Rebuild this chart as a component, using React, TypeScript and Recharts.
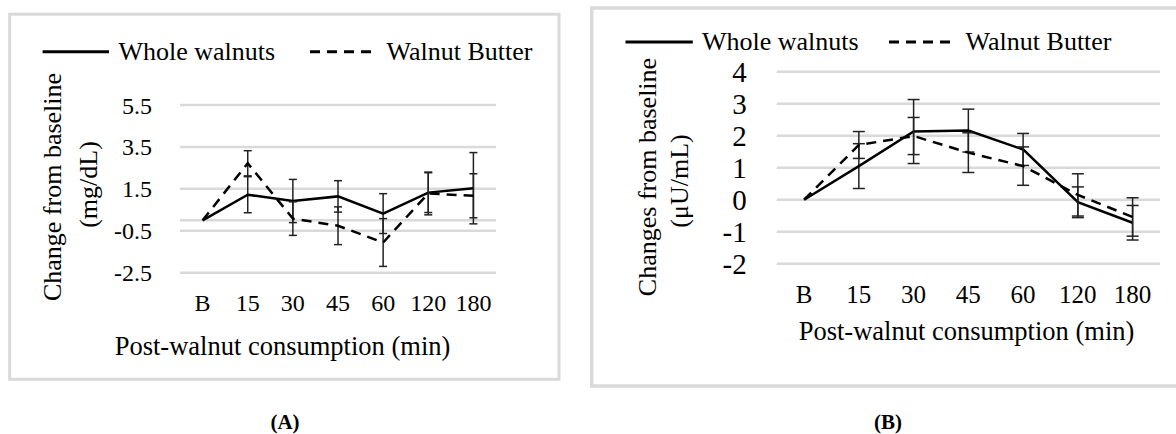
import React from 'react';
import { LineChart, Line, XAxis, YAxis, CartesianGrid, ErrorBar, ReferenceLine } from 'recharts';

const categories = ['B', '15', '30', '45', '60', '120', '180'];

// Panel A: glucose change (mg/dL)
const glucoseWhole = [0, 1.22, 0.92, 1.14, 0.32, 1.32, 1.53];
const glucoseWholeErr = [0, 0.86, 1.03, 0.75, 0.95, 0.95, 1.7];
const glucoseButter = [0, 2.72, 0.08, -0.26, -1.06, 1.28, 1.17];
const glucoseButterErr = [0, 0.6, 0.8, 0.9, 1.14, 1.02, 1.05];
const glucoseTicks = [-2.5, -0.5, 1.5, 3.5, 5.5];

// Panel B: insulin change (µU/mL)
const insulinWhole = [0, 1.05, 2.13, 2.16, 1.57, -0.08, -0.72];
const insulinWholeErr = [0, 0.7, 1.0, 0.67, 0.5, 0.48, 0.54];
const insulinButter = [0, 1.71, 1.99, 1.47, 1.05, 0.15, -0.54];
const insulinButterErr = [0, 0.42, 0.58, 0.62, 0.6, 0.66, 0.6];
const insulinTicks = [-2, -1, 0, 1, 2, 3, 4];

const seriesNames = ['Whole walnuts', 'Walnut Butter'];
const xTitle = 'Post-walnut consumption (min)';

const glucoseData = categories.map((t, i) => ({
  t,
  whole: glucoseWhole[i],
  wholeErr: glucoseWholeErr[i],
  butter: glucoseButter[i],
  butterErr: glucoseButterErr[i],
}));

const insulinData = categories.map((t, i) => ({
  t,
  whole: insulinWhole[i],
  wholeErr: insulinWholeErr[i],
  butter: insulinButter[i],
  butterErr: insulinButterErr[i],
}));

const FONT = "'Liberation Serif', 'Times New Roman', serif";
const GRID = '#d9d9d9';

export default function App() {
  return (
    <div style={{ position: 'absolute', left: 0, top: 0, width: 1176, height: 434, background: '#fff', overflow: 'hidden' }}>
      {/* Panel A chart */}
      <div style={{ position: 'absolute', left: 0, top: 0, width: 580, height: 434 }}>
        <LineChart width={580} height={434} data={glucoseData} margin={{ top: 105, right: 84, bottom: 131.3, left: 120 }}>
          <CartesianGrid vertical={false} stroke={GRID} strokeWidth={2.5} />
          <XAxis
            dataKey="t"
            axisLine={false}
            tickLine={false}
            tickSize={0}
            tickMargin={21.4}
            height={30}
            interval={0}
            padding={{ left: 22.6, right: 22.6 }}
            tick={{ fontSize: 24, fill: '#000', fontFamily: FONT }}
          />
          <YAxis
            domain={[-2.5, 5.5]}
            ticks={glucoseTicks}
            interval={0}
            axisLine={false}
            tickLine={false}
            tickSize={0}
            tickMargin={28}
            width={60}
            tick={{ fontSize: 24, fill: '#000', fontFamily: FONT }}
          />
          <ReferenceLine y={0} stroke={GRID} strokeWidth={2.5} />
          <Line type="linear" dataKey="whole" stroke="#000" strokeWidth={2.5} dot={false} isAnimationActive={false}>
            <ErrorBar dataKey="wholeErr" direction="y" width={4} stroke="#222" strokeWidth={1.5} />
          </Line>
          <Line type="linear" dataKey="butter" stroke="#000" strokeWidth={2.5} strokeDasharray="10 7" dot={false} isAnimationActive={false}>
            <ErrorBar dataKey="butterErr" direction="y" width={4} stroke="#222" strokeWidth={1.5} />
          </Line>
        </LineChart>
      </div>

      {/* Panel B chart */}
      <div style={{ position: 'absolute', left: 585, top: 0, width: 591, height: 434 }}>
        <LineChart width={591} height={434} data={insulinData} margin={{ top: 71.7, right: 16, bottom: 140.3, left: 131.7 }}>
          <CartesianGrid vertical={false} stroke={GRID} strokeWidth={2.5} />
          <XAxis
            dataKey="t"
            axisLine={false}
            tickLine={false}
            tickSize={0}
            tickMargin={22}
            height={30}
            interval={0}
            padding={{ left: 27.4, right: 27.4 }}
            tick={{ fontSize: 25, fill: '#000', fontFamily: FONT }}
          />
          <YAxis
            domain={[-2, 4]}
            ticks={insulinTicks}
            interval={0}
            axisLine={false}
            tickLine={false}
            tickSize={0}
            tickMargin={30}
            width={60}
            tick={{ fontSize: 29, fill: '#000', fontFamily: FONT }}
          />
          <Line type="linear" dataKey="whole" stroke="#000" strokeWidth={2.5} dot={false} isAnimationActive={false}>
            <ErrorBar dataKey="wholeErr" direction="y" width={6} stroke="#222" strokeWidth={1.5} />
          </Line>
          <Line type="linear" dataKey="butter" stroke="#000" strokeWidth={2.5} strokeDasharray="10 7" dot={false} isAnimationActive={false}>
            <ErrorBar dataKey="butterErr" direction="y" width={6} stroke="#222" strokeWidth={1.5} />
          </Line>
        </LineChart>
      </div>

      {/* Overlay: frames, legends, titles, panel labels */}
      <svg width={1176} height={434} style={{ position: 'absolute', left: 0, top: 0, pointerEvents: 'none' }} fontFamily={FONT}>
        <rect x={9.7} y={14.2} width={549.3} height={365.1} fill="none" stroke={GRID} strokeWidth={3} />
        <rect x={591.7} y={8} width={590} height={378} fill="none" stroke={GRID} strokeWidth={3.5} />

        {/* Legend A */}
        <line x1={42.6} x2={109} y1={51.7} y2={51.7} stroke="#000" strokeWidth={3} />
        <text x={118.5} y={60} fontSize={26} fill="#000">{seriesNames[0]}</text>
        <line x1={310} x2={372} y1={51.7} y2={51.7} stroke="#000" strokeWidth={3} strokeDasharray="10 7" />
        <text x={386.5} y={60} fontSize={26} fill="#000">{seriesNames[1]}</text>

        {/* Legend B */}
        <line x1={625.5} x2={692.8} y1={42} y2={42} stroke="#000" strokeWidth={3} />
        <text x={702} y={50} fontSize={26} fill="#000">{seriesNames[0]}</text>
        <line x1={889} x2={952.5} y1={42} y2={42} stroke="#000" strokeWidth={3} strokeDasharray="10 7" />
        <text x={965.6} y={50} fontSize={26} fill="#000">{seriesNames[1]}</text>

        {/* Y titles A */}
        <text x={61.3} y={187} fontSize={26} fill="#000" textAnchor="middle" transform="rotate(-90 61.3 187)">Change from baseline</text>
        <text x={97.2} y={184.5} fontSize={26} fill="#000" textAnchor="middle" transform="rotate(-90 97.2 184.5)">(mg/dL)</text>

        {/* Y titles B */}
        <text x={655.5} y={177} fontSize={26} fill="#000" textAnchor="middle" transform="rotate(-90 655.5 177)">Changes from baseline</text>
        <text x={688} y={181} fontSize={26} fill="#000" textAnchor="middle" transform="rotate(-90 688 181)">(μU/mL)</text>

        {/* X titles */}
        <text x={282.5} y={355} fontSize={26.5} fill="#000" textAnchor="middle">{xTitle}</text>
        <text x={966.5} y={340} fontSize={26.5} fill="#000" textAnchor="middle">{xTitle}</text>

        {/* Panel labels */}
        <text x={285} y={429} fontSize={21} fill="#000" textAnchor="middle" fontWeight="bold">(A)</text>
        <text x={888} y={429} fontSize={21} fill="#000" textAnchor="middle" fontWeight="bold">(B)</text>
      </svg>
    </div>
  );
}
